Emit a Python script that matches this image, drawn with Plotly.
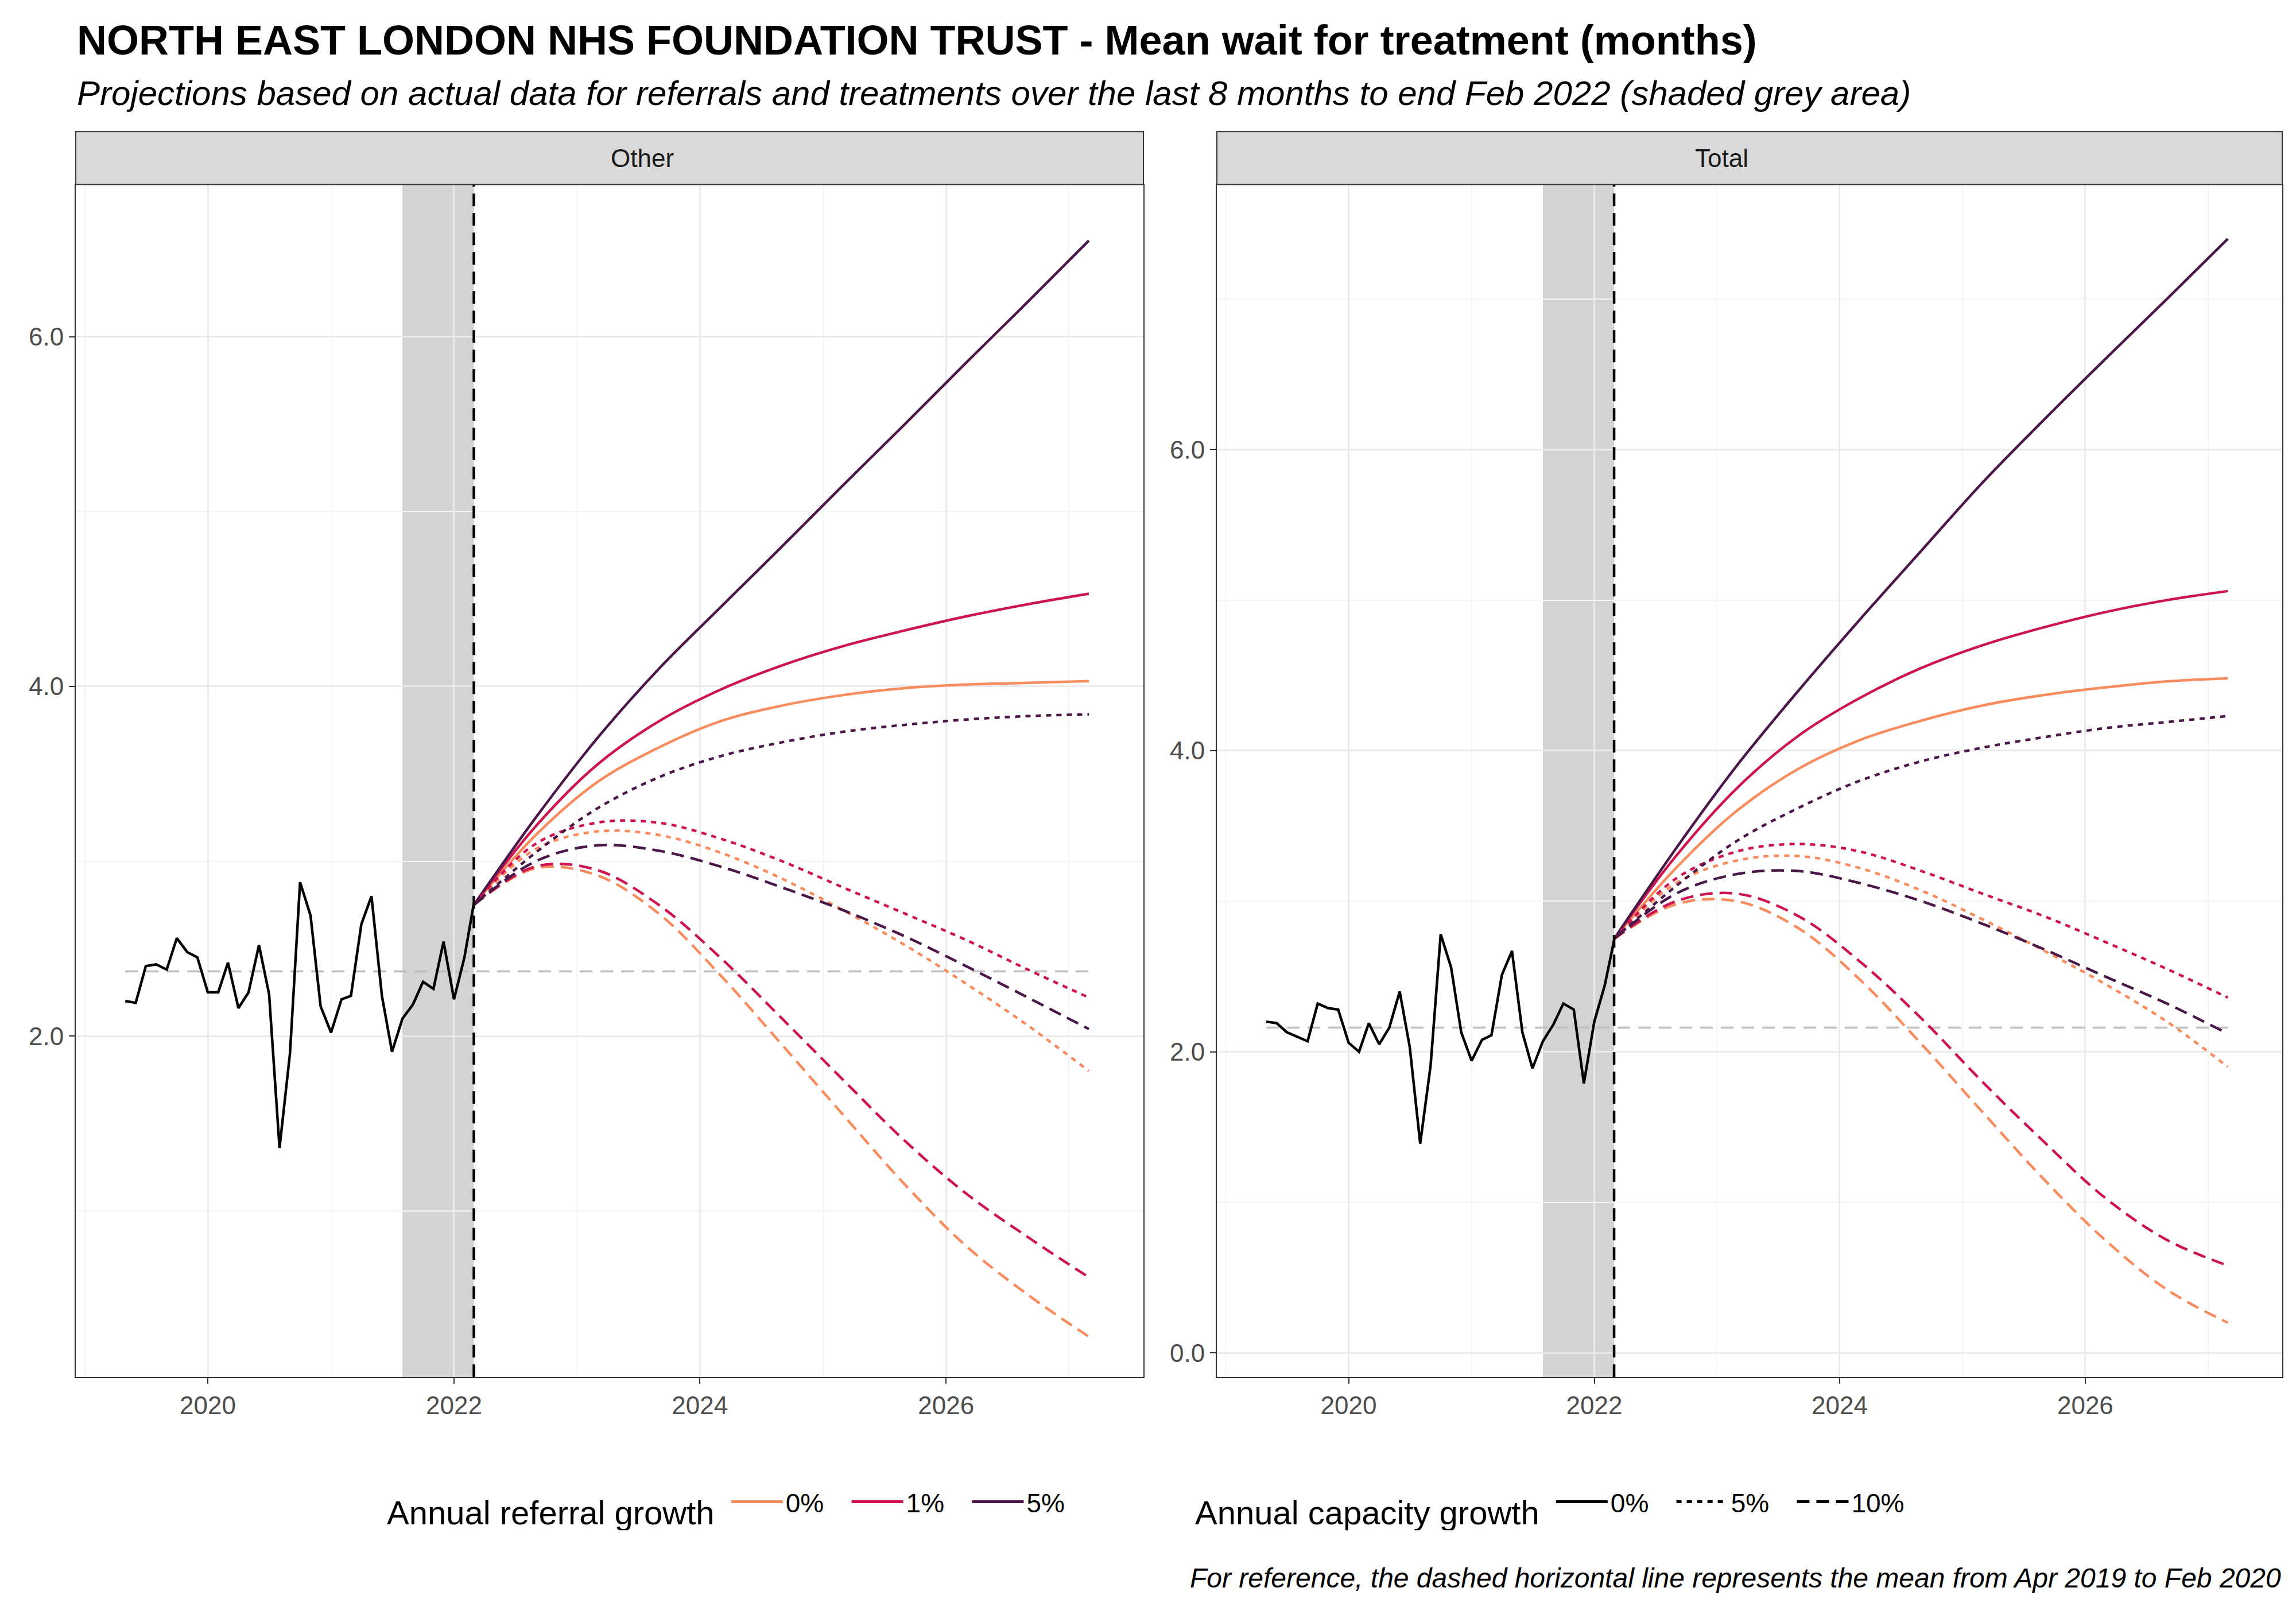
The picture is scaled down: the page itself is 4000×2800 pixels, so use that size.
import plotly.graph_objects as go
import pandas as pd

# historical monthly data (May 2019 - Mar 2022)
hist_dates = pd.date_range("2019-05-01", periods=35, freq="MS")
hist_other = [2.20, 2.19, 2.40, 2.41, 2.38, 2.56, 2.48, 2.45, 2.25, 2.25, 2.42, 2.16,
              2.25, 2.52, 2.24, 1.36, 1.90, 2.88, 2.69, 2.17, 2.02, 2.21, 2.23, 2.64,
              2.80, 2.23, 1.91, 2.10, 2.18, 2.31, 2.27, 2.54, 2.21, 2.45, 2.76]
hist_total = [2.20, 2.19, 2.13, 2.10, 2.07, 2.32, 2.29, 2.28, 2.06, 2.00, 2.19, 2.05,
              2.16, 2.40, 2.03, 1.39, 1.91, 2.78, 2.56, 2.13, 1.94, 2.08, 2.11, 2.51,
              2.67, 2.13, 1.89, 2.07, 2.18, 2.32, 2.28, 1.79, 2.20, 2.44, 2.74]
mean_other = 2.37
mean_total = 2.16

# projections, read every 6 months (Mar 2022 - Mar 2027)
proj_dates = pd.date_range("2022-03-01", periods=11, freq="6MS")
referral_growth = ["0%", "1%", "5%"]
capacity_growth = ["0%", "5%", "10%"]

proj_other = {
    ("0%", "0%"): [2.75, 3.15, 3.45, 3.65, 3.80, 3.89, 3.95, 3.99, 4.01, 4.02, 4.03],
    ("1%", "0%"): [2.75, 3.20, 3.55, 3.80, 3.98, 4.12, 4.23, 4.32, 4.40, 4.47, 4.53],
    ("5%", "0%"): [2.75, 3.25, 3.70, 4.10, 4.45, 4.80, 5.15, 5.50, 5.85, 6.20, 6.55],
    ("0%", "5%"): [2.75, 3.07, 3.17, 3.15, 3.05, 2.90, 2.72, 2.52, 2.30, 2.06, 1.80],
    ("1%", "5%"): [2.75, 3.10, 3.22, 3.22, 3.13, 3.00, 2.85, 2.70, 2.55, 2.38, 2.22],
    ("5%", "5%"): [2.75, 3.05, 3.30, 3.48, 3.60, 3.68, 3.74, 3.78, 3.81, 3.83, 3.84],
    ("0%", "10%"): [2.75, 2.96, 2.92, 2.70, 2.35, 1.95, 1.55, 1.15, 0.80, 0.52, 0.28],
    ("1%", "10%"): [2.75, 2.97, 2.95, 2.75, 2.45, 2.10, 1.75, 1.40, 1.10, 0.85, 0.62],
    ("5%", "10%"): [2.75, 3.00, 3.09, 3.06, 2.97, 2.85, 2.72, 2.57, 2.40, 2.22, 2.04],
}
proj_total = {
    ("0%", "0%"): [2.75, 3.22, 3.60, 3.88, 4.07, 4.20, 4.30, 4.37, 4.42, 4.46, 4.48],
    ("1%", "0%"): [2.75, 3.30, 3.75, 4.10, 4.35, 4.55, 4.70, 4.82, 4.92, 5.00, 5.06],
    ("5%", "0%"): [2.75, 3.35, 3.90, 4.40, 4.87, 5.33, 5.78, 6.20, 6.60, 7.00, 7.40],
    ("0%", "5%"): [2.75, 3.12, 3.27, 3.30, 3.22, 3.07, 2.88, 2.67, 2.45, 2.20, 1.90],
    ("1%", "5%"): [2.75, 3.15, 3.33, 3.38, 3.33, 3.20, 3.05, 2.90, 2.73, 2.55, 2.36],
    ("5%", "5%"): [2.75, 3.10, 3.40, 3.62, 3.80, 3.93, 4.02, 4.09, 4.15, 4.19, 4.23],
    ("0%", "10%"): [2.75, 2.98, 3.00, 2.82, 2.48, 2.05, 1.60, 1.15, 0.75, 0.42, 0.20],
    ("1%", "10%"): [2.75, 3.00, 3.05, 2.90, 2.60, 2.22, 1.80, 1.40, 1.03, 0.75, 0.58],
    ("5%", "10%"): [2.75, 3.05, 3.18, 3.20, 3.12, 3.00, 2.85, 2.68, 2.50, 2.32, 2.12],
}

colors = {"0%": "#F98C5E", "1%": "#CE1450", "5%": "#4B1648"}
dashes = {"0%": "solid", "5%": "9px,9px", "10%": "22px,12px"}

shade_start = "2021-08-01"
proj_start = "2022-03-01"

fig = go.Figure()

panels = [("x", "y", hist_other, mean_other, proj_other),
          ("x2", "y2", hist_total, mean_total, proj_total)]

for xa, ya, hist, mean_val, proj in panels:
    fig.add_trace(go.Scatter(x=[hist_dates[0], proj_dates[-1]], y=[mean_val, mean_val], mode="lines",
                             line=dict(color="#BEBEBE", width=3.5, dash="22px,14px"),
                             xaxis=xa, yaxis=ya, showlegend=False))
    fig.add_trace(go.Scatter(x=hist_dates, y=hist, mode="lines", line=dict(color="black", width=4.5),
                             xaxis=xa, yaxis=ya, showlegend=False))
    for (rg, cg), vals in proj.items():
        fig.add_trace(go.Scatter(x=proj_dates, y=vals, mode="lines",
                                 line=dict(color=colors[rg], width=4.5, dash=dashes[cg], shape="spline"),
                                 xaxis=xa, yaxis=ya, showlegend=False))
    xref = xa
    yref = ya + " domain"
    fig.add_shape(type="rect", x0=shade_start, x1=proj_start, y0=0, y1=1, xref=xref, yref=yref,
                  fillcolor="#D3D3D3", line_width=0, layer="below")
    fig.add_shape(type="line", x0=proj_start, x1=proj_start, y0=0, y1=1, xref=xref, yref=yref,
                  line=dict(color="black", width=4.5, dash="22px,12px"))

# legend entries
for rg in referral_growth:
    fig.add_trace(go.Scatter(x=[None], y=[None], mode="lines", name=rg + "   ",
                             line=dict(color=colors[rg], width=5), legend="legend"))
for cg in capacity_growth:
    fig.add_trace(go.Scatter(x=[None], y=[None], mode="lines", name=cg + "   ",
                             line=dict(color="black", width=5, dash=dashes[cg]), legend="legend2"))

ydom = [0.146, 0.888]
xcommon = dict(type="date", range=["2018-12-05", "2027-08-10"], tick0="2020-01-01", dtick="M24",
               tickformat="%Y", showgrid=True, gridcolor="#EBEBEB", gridwidth=3,
               minor=dict(dtick="M12", tick0="2019-01-01", showgrid=True, gridcolor="#F5F5F5", gridwidth=2),
               ticks="outside", ticklen=10, tickcolor="#333", tickwidth=2,
               tickfont=dict(size=44, color="#4D4D4D"), showline=True, mirror=True,
               linecolor="#333", linewidth=2, zeroline=False)
ycommon = dict(showgrid=True, gridcolor="#EBEBEB", gridwidth=3, tickformat=".1f", dtick=2,
               minor=dict(dtick=1, showgrid=True, gridcolor="#F5F5F5", gridwidth=2),
               ticks="outside", ticklen=10, tickcolor="#333", tickwidth=2,
               tickfont=dict(size=44, color="#4D4D4D"), showline=True, mirror=True,
               linecolor="#333", linewidth=2, zeroline=False)

fig.update_layout(
    width=4000, height=2800, paper_bgcolor="white", plot_bgcolor="white",
    margin=dict(l=0, r=0, t=0, b=0),
    font=dict(family="Arial, Liberation Sans, sans-serif", color="black"),
    xaxis=dict(domain=[0.031, 0.496], anchor="y", **xcommon),
    yaxis=dict(domain=ydom, anchor="x", range=[0.05, 6.87], tick0=2, **ycommon),
    xaxis2=dict(domain=[0.528, 0.992], anchor="y2", **xcommon),
    yaxis2=dict(domain=ydom, anchor="x2", range=[-0.16, 7.76], tick0=0, **ycommon),
    legend=dict(orientation="h", x=0.166, y=0.066, xanchor="left", yanchor="middle",
                title=dict(text="Annual referral growth ", font=dict(size=58)),
                font=dict(size=46), itemwidth=90, bgcolor="rgba(0,0,0,0)"),
    legend2=dict(orientation="h", x=0.518, y=0.066, xanchor="left", yanchor="middle",
                 title=dict(text="Annual capacity growth ", font=dict(size=58)),
                 font=dict(size=46), itemwidth=90, bgcolor="rgba(0,0,0,0)"),
)

# strips
for x0, x1, label in [(0.031, 0.496, "Other"), (0.528, 0.992, "Total")]:
    fig.add_shape(type="rect", xref="paper", yref="paper", x0=x0, x1=x1, y0=0.888, y1=0.921,
                  fillcolor="#D9D9D9", line=dict(color="#333", width=2))
    fig.add_annotation(x=(x0 + x1) / 2, y=0.9045, xref="paper", yref="paper", yanchor="middle",
                       text=label, showarrow=False, font=dict(size=44, color="#1A1A1A"))

fig.add_annotation(x=0.031, y=0.978, xref="paper", yref="paper", xanchor="left", yanchor="middle",
                   text="<b>NORTH EAST LONDON NHS FOUNDATION TRUST - Mean wait for treatment (months)</b>",
                   showarrow=False, font=dict(size=72))
fig.add_annotation(x=0.031, y=0.945, xref="paper", yref="paper", xanchor="left", yanchor="middle",
                   text="<i>Projections based on actual data for referrals and treatments over the last 8 months to end Feb 2022 (shaded grey area)</i>",
                   showarrow=False, font=dict(size=60))
fig.add_annotation(x=0.992, y=0.021, xref="paper", yref="paper", xanchor="right", yanchor="middle",
                   text="<i>For reference, the dashed horizontal line represents the mean from Apr 2019 to Feb 2020</i>",
                   showarrow=False, font=dict(size=48))

fig.write_html("out.html")
